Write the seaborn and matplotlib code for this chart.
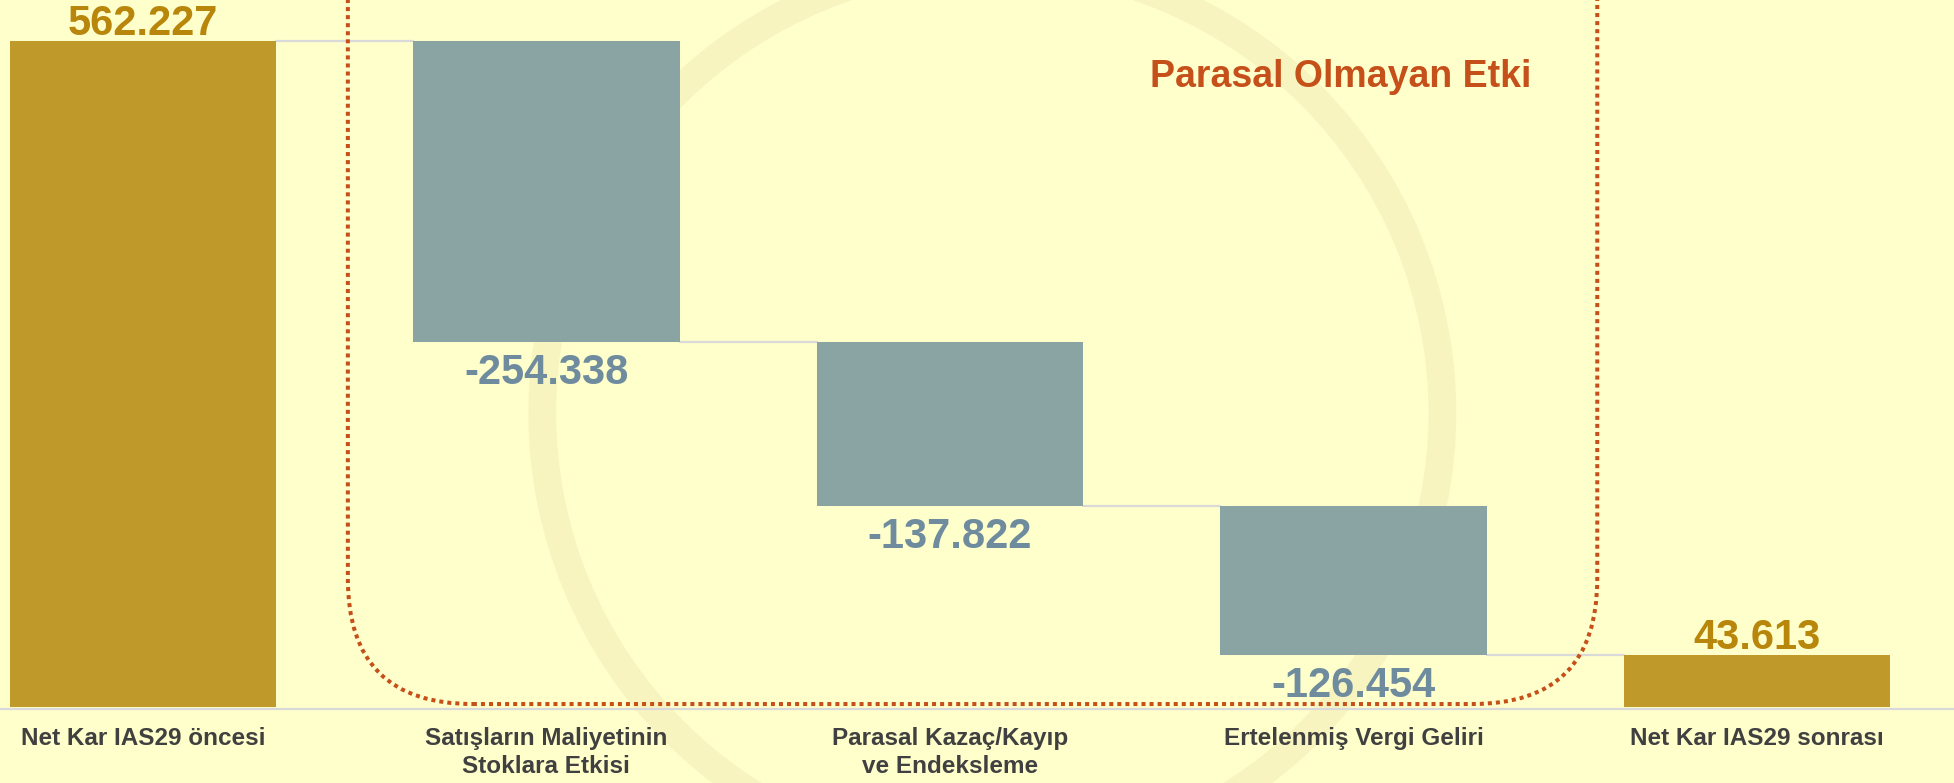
import numpy as np
import matplotlib
matplotlib.use("Agg")
import matplotlib.pyplot as plt
from matplotlib.patches import FancyBboxPatch, Ellipse
import seaborn as sns

# waterfall data (thousand TL)
categories = ["Net Kar IAS29 öncesi",
              "Satışların Maliyetinin\nStoklara Etkisi",
              "Parasal Kazaç/Kayıp\nve Endeksleme",
              "Ertelenmiş Vergi Geliri",
              "Net Kar IAS29 sonrası"]
values = [562.227, -254.338, -137.822, -126.454, 43.613]
value_labels = ["562.227", "-254.338", "-137.822", "-126.454", "43.613"]
is_total = [True, False, False, False, True]
box_title = "Parasal Olmayan Etki"

BG = "#FFFFCC"
GOLD = "#BF9A2A"
GOLD_TXT = "#B8860B"
GREY = "#8AA3A3"
GREY_TXT = "#6F8C9F"
RED = "#C5501A"
LINE = "#D9D9D9"

sns.set_theme(style="white")
plt.rcParams["font.family"] = ["Liberation Sans", "DejaVu Sans"]

# bottoms / heights for waterfall
bottoms, heights = [], []
running = 0.0
for v, tot in zip(values, is_total):
    if tot:
        bottoms.append(0.0)
        heights.append(abs(v))
        running = v
    else:
        running += v
        bottoms.append(running)
        heights.append(-v)

fig = plt.figure(figsize=(19.54, 7.83), dpi=100, facecolor=BG)
ax = fig.add_axes([0, 74 / 783, 1, 709 / 783])
ax.set_facecolor(BG)

# pixel scale of the axes (x: px per category, y: px per unit)
px_x = 403.5
px_y = 1.1846

bar_w = 0.66
colors = [GOLD if t else GREY for t in is_total]
sns.barplot(x=categories, y=heights, hue=categories, palette=colors, legend=False,
            width=bar_w, saturation=1, linewidth=0, ax=ax, zorder=3)
for p, b in zip(ax.patches, bottoms):
    p.set_y(b)

ax.set_xlim(-0.354, 4.488)
ax.set_ylim(-1.69, 596.8)

# faint watermark ring behind everything
ring = Ellipse((2.105, (707 - 413) / px_y), 2 * 450 / px_x, 2 * 450 / px_y,
               fill=False, lw=20, ec="#F8F4C0", zorder=0.5, clip_on=False)
ax.add_patch(ring)

# connector lines
level = 0.0
for i in range(len(values) - 1):
    level = values[i] if is_total[i] else level + values[i]
    ax.plot([i + bar_w / 2, i + 1 - bar_w / 2], [level, level], color=LINE, lw=1.6, zorder=2)

# value labels
for i, (v, b, h, t) in enumerate(zip(values, bottoms, heights, value_labels)):
    if v > 0:
        ax.annotate(t, (i, b + h), xytext=(0, 4.5), textcoords="offset points",
                    ha="center", va="baseline", fontsize=30, fontweight="bold",
                    color=GOLD_TXT, zorder=5)
    else:
        ax.annotate(t, (i, b), xytext=(0, -8), textcoords="offset points",
                    ha="center", va="top", fontsize=30, fontweight="bold",
                    color=GREY_TXT, zorder=5)

# dotted rounded box around non-monetary items
rad_x = 125 / px_x
asp = (125 / px_y) / rad_x
box = FancyBboxPatch((0.508, 2.5), 3.604 - 0.508, 1200,
                     boxstyle=f"round,pad=0,rounding_size={rad_x}",
                     mutation_aspect=asp, fill=False, ec=RED, lw=2.9,
                     linestyle=(0, (1, 1)), clip_on=False, zorder=4)
ax.add_patch(box)
ax.text(2.967, 523.4, box_title, ha="center", va="baseline", fontsize=27,
        fontweight="bold", color=RED, zorder=5)

sns.despine(ax=ax, left=True, top=True, right=True)
ax.spines["bottom"].set_color(LINE)
ax.spines["bottom"].set_linewidth(1.6)
ax.spines["bottom"].set_zorder(6)
ax.set_yticks([])
ax.tick_params(axis="x", length=0, pad=13)
for lbl in ax.get_xticklabels():
    lbl.set_fontsize(17.5)
    lbl.set_fontweight("bold")
    lbl.set_color("#404040")
    lbl.set_linespacing(1.25)
ax.set_xlabel("")

fig.savefig("out.png", dpi=100, facecolor=BG)
